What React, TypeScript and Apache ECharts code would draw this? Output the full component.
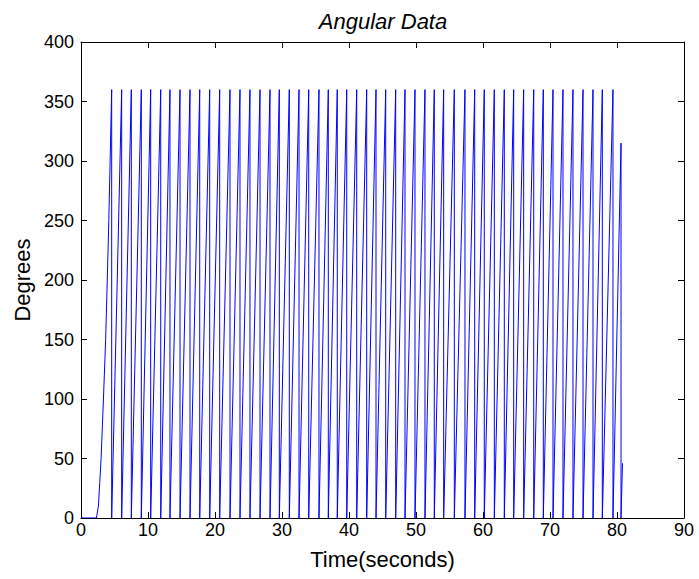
import React, { useEffect, useRef } from "react";
import * as echarts from "echarts";

// Startup segment (seconds, degrees) before the first wrap
const startTimes = [0, 2.3, 2.6, 2.8, 3.0, 3.35, 3.68, 3.92, 4.15, 4.35];
const startDegrees = [0, 0, 10, 30, 50, 100, 150, 200, 250, 300];

// Times (seconds) at which the angle reaches 360 and wraps back to 0
const wrapTimes = [
  4.58, 6.07, 7.51, 9.0, 10.4, 11.9, 13.28, 14.78, 16.27, 17.72, 19.21, 20.7,
  22.24, 23.73, 25.22, 26.72, 28.21, 29.6, 31.09, 32.54, 33.99, 35.52, 36.91,
  38.25, 39.66, 41.15, 42.64, 44.03, 45.48, 46.97, 48.36, 49.85, 51.34, 52.73,
  54.13, 55.72, 57.31, 58.76, 60.19, 61.69, 63.18, 64.58, 66.07, 67.57, 69.0,
  70.45, 71.94, 73.43, 74.93, 76.42, 77.81, 79.4,
];

// Final partial cycles after the last full wrap
const endTimes = [80.6, 80.6, 80.82];
const endDegrees = [315, 0, 46];

const xTicks = [0, 10, 20, 30, 40, 50, 60, 70, 80, 90];
const yTicks = [0, 50, 100, 150, 200, 250, 300, 350, 400];

function buildSeries(): [number, number][] {
  const pts: [number, number][] = [];
  startTimes.forEach((t, i) => pts.push([t, startDegrees[i]]));
  wrapTimes.forEach((t) => {
    pts.push([t, 360]);
    pts.push([t, 0]);
  });
  endTimes.forEach((t, i) => pts.push([t, endDegrees[i]]));
  return pts;
}

export default function App() {
  const ref = useRef<HTMLDivElement>(null);
  useEffect(() => {
    if (!ref.current) return;
    const chart = echarts.init(ref.current, undefined, { renderer: "svg" });
    const font = "'Liberation Sans', Arial, Helvetica, sans-serif";
    const lineCommon = {
      axisLine: { show: true, onZero: false, lineStyle: { color: "#000", width: 1 } },
      axisTick: { show: true, inside: true, length: 6, lineStyle: { color: "#000" } },
      splitLine: { show: false },
    };
    const xCommon = {
      type: "value",
      min: xTicks[0],
      max: xTicks[xTicks.length - 1],
      interval: xTicks[1] - xTicks[0],
      ...lineCommon,
    };
    const yCommon = {
      type: "value",
      min: yTicks[0],
      max: yTicks[yTicks.length - 1],
      interval: yTicks[1] - yTicks[0],
      ...lineCommon,
    };
    chart.setOption({
      animation: false,
      backgroundColor: "#fff",
      title: {
        text: "Angular Data",
        left: 378,
        top: 5,
        textAlign: "center",
        textStyle: {
          fontFamily: font,
          fontStyle: "italic",
          fontWeight: "normal",
          fontSize: 22,
          color: "#000",
        },
      },
      grid: { left: 81, right: 15, top: 42, bottom: 61, containLabel: false },
      xAxis: [
        {
          ...xCommon,
          position: "bottom",
          name: "Time(seconds)",
          nameLocation: "middle",
          nameGap: 30,
          nameTextStyle: { fontFamily: font, fontSize: 22, color: "#000" },
          axisLabel: { fontFamily: font, fontSize: 18, color: "#000", margin: 3 },
        },
        {
          ...xCommon,
          position: "top",
          axisLabel: { show: false },
        },
      ],
      yAxis: [
        {
          ...yCommon,
          position: "left",
          name: "Degrees",
          nameLocation: "middle",
          nameGap: 47,
          nameTextStyle: { fontFamily: font, fontSize: 22, color: "#000" },
          axisLabel: { fontFamily: font, fontSize: 18, color: "#000", margin: 7 },
        },
        {
          ...yCommon,
          position: "right",
          axisLabel: { show: false },
        },
      ],
      series: [
        {
          type: "line",
          xAxisIndex: 0,
          yAxisIndex: 0,
          data: buildSeries(),
          showSymbol: false,
          symbol: "none",
          lineStyle: { color: "#0000ff", width: 1 },
        },
      ],
    });
    return () => chart.dispose();
  }, []);
  return (
    <div
      ref={ref}
      style={{ position: "fixed", left: 0, top: 0, width: 699, height: 579, background: "#fff" }}
    />
  );
}
